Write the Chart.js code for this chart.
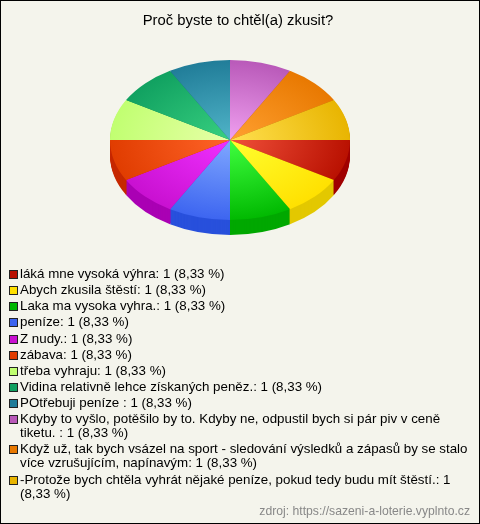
<!DOCTYPE html>
<html lang="cs">
<head>
<meta charset="utf-8">
<title>Proč byste to chtěl(a) zkusit?</title>
<script src="https://cdn.jsdelivr.net/npm/chart.js@4"></script>
<style>
  html, body { margin: 0; padding: 0; background: #f4f4ec; }
  #box { position: relative; width: 480px; height: 524px; box-sizing: border-box; border: 1px solid #000; overflow: hidden;
         font: 13.33px "Liberation Sans", Arial, sans-serif; color: #000; }
  #pie { position: absolute; left: -1px; top: -1px; }
  #legend { position: absolute; left: 8px; top: 266px; width: 463px; margin: 0; padding: 0; list-style: none; }
  #legend li { position: relative; padding-left: 11px; line-height: 14px; margin-bottom: 2.15px; }
  #legend i { position: absolute; left: 0; top: 3px; width: 7px; height: 7px; border: 1px solid #222; }
  #source { position: absolute; right: 9px; top: 503px; color: #888; font-size: 12.2px; }
</style>
</head>
<body>
<div id="box">
  <canvas id="pie" width="476" height="524"></canvas>
  <ul id="legend"></ul>
  <div id="source">zdroj: https://sazeni-a-loterie.vyplnto.cz</div>
</div>
<script>
  const TITLE = 'Proč byste to chtěl(a) zkusit?';
  const labels = [
    'láká mne vysoká výhra',
    'Abych zkusila štěstí',
    'Laka ma vysoka vyhra.',
    'peníze',
    'Z nudy.',
    'zábava',
    'třeba vyhraju',
    'Vidina relativně lehce získaných peněz.',
    'POtřebuji peníze ',
    'Kdyby to vyšlo, potěšilo by to. Kdyby ne, odpustil bych si pár piv v ceně tiketu. ',
    'Když už, tak bych vsázel na sport - sledování výsledků a zápasů by se stalo více vzrušujícím, napínavým',
    '-Protože bych chtěla vyhrát nějaké peníze, pokud tedy budu mít štěstí.'
  ];
  const values = [1, 1, 1, 1, 1, 1, 1, 1, 1, 1, 1, 1];
  const innerColors = ['#f0503a', '#ffff30', '#40ff40', '#80a8ff', '#f030ff', '#ff6428', '#e8ffa8', '#38d080', '#50b4c8', '#f0a0f0', '#ffa030', '#ffe050'];
  const outerColors = ['#b81000', '#ffe000', '#00b800', '#3c64f0', '#c810d0', '#e03c00', '#c0ff70', '#10a060', '#207c98', '#b858b8', '#e87800', '#e8b400'];
  const sideColors = ['#a00000', '#e3c800', '#00a800', '#2850dc', '#aa00b4', '#c62800', '#a0d060', '#088050', '#186078', '#904090', '#b85c00', '#b88c00'];

  const SQUASH = 2 / 3;
  const CENTER_X = 230;
  const CENTER_Y = 140;
  const DEPTH = 15;

  function sliceFill(ctx) {
    const area = ctx.chart.chartArea;
    if (!area) return outerColors[ctx.dataIndex];
    const x = (area.left + area.right) / 2;
    const y = (area.top + area.bottom) / 2;
    const g = ctx.chart.ctx.createRadialGradient(x, y, 0, x, y, 122);
    g.addColorStop(0, innerColors[ctx.dataIndex]);
    g.addColorStop(1, outerColors[ctx.dataIndex]);
    return g;
  }

  // flatten the pie to an ellipse and paint the side wall under it
  const tiltPlugin = {
    id: 'tilt',
    beforeDatasetsDraw(chart) {
      const ctx = chart.ctx;
      const arcs = chart.getDatasetMeta(0).data;
      const cx = arcs[0].x;
      const cy = arcs[0].y;
      ctx.save();
      ctx.translate(CENTER_X, CENTER_Y);
      ctx.scale(1, SQUASH);
      ctx.translate(-cx, -cy);
      for (let d = DEPTH; d >= 1; d--) {
        arcs.forEach((arc, i) => {
          const p = arc.getProps(['startAngle', 'endAngle', 'outerRadius']);
          ctx.beginPath();
          ctx.moveTo(cx, cy + d / SQUASH);
          ctx.arc(cx, cy + d / SQUASH, p.outerRadius, p.startAngle, p.endAngle);
          ctx.closePath();
          ctx.fillStyle = sideColors[i];
          ctx.fill();
        });
      }
    },
    afterDatasetsDraw(chart) {
      chart.ctx.restore();
    }
  };

  new Chart(document.getElementById('pie'), {
    type: 'pie',
    data: {
      labels,
      datasets: [{
        data: values,
        backgroundColor: sliceFill,
        borderWidth: 0,
        radius: 120,
        clip: false
      }]
    },
    options: {
      responsive: false,
      animation: false,
      rotation: 90,
      layout: { padding: { left: 0, right: 0, top: 0, bottom: 200 } },
      plugins: {
        legend: { display: false },
        tooltip: { enabled: false },
        title: {
          display: true,
          text: TITLE,
          color: '#000',
          font: { family: '"Liberation Sans", Arial, sans-serif', size: 14.85, weight: 'normal' },
          padding: { top: 12, bottom: 10 }
        }
      }
    },
    plugins: [tiltPlugin]
  });

  const total = values.reduce((a, b) => a + b, 0);
  document.getElementById('legend').innerHTML = labels.map((label, i) => {
    const pct = (values[i] / total * 100).toFixed(2).replace('.', ',');
    return `<li><i style="background:${outerColors[i]}"></i>${label}: ${values[i]} (${pct} %)</li>`;
  }).join('');
</script>
</body>
</html>
